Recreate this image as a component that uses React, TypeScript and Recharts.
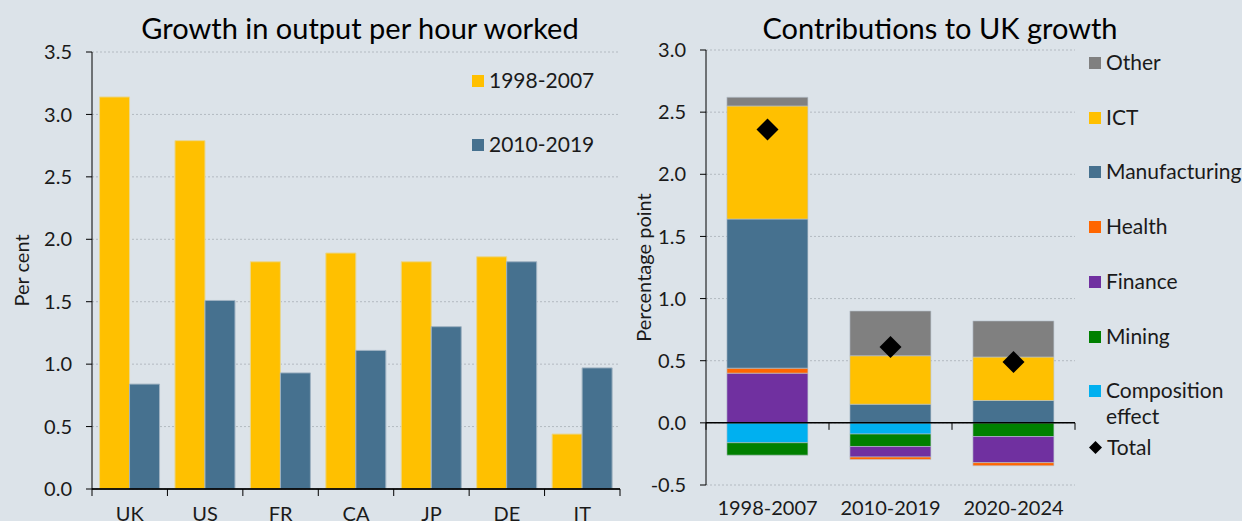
import React from "react"
import {
  BarChart,
  ComposedChart,
  Bar,
  Line,
  XAxis,
  YAxis,
  CartesianGrid,
  ReferenceLine,
} from "recharts"

// left chart
const countries = ["UK", "US", "FR", "CA", "JP", "DE", "IT"]
const growth1998 = [3.14, 2.79, 1.82, 1.89, 1.82, 1.86, 0.44]
const growth2010 = [0.84, 1.51, 0.93, 1.11, 1.3, 1.82, 0.97]
const leftTicks = [0, 0.5, 1, 1.5, 2, 2.5, 3, 3.5]

// right chart
const periods = ["1998-2007", "2010-2019", "2020-2024"]
const composition = [-0.16, -0.09, 0]
const mining = [-0.1, -0.1, -0.11]
const finance = [0.4, -0.085, -0.21]
const health = [0.04, -0.02, -0.025]
const manufacturing = [1.2, 0.15, 0.18]
const ict = [0.91, 0.39, 0.35]
const other = [0.07, 0.36, 0.29]
const total = [2.36, 0.61, 0.49]
const rightTicks = [-0.5, 0, 0.5, 1, 1.5, 2, 2.5, 3]

const FONT = "Lato, 'Open Sans', sans-serif"
const BG = "#dce3e9"
const YELLOW = "#ffc000"
const BLUE = "#46718f"

const leftData = countries.map((c, i) => ({
  country: c,
  a: growth1998[i],
  b: growth2010[i],
}))

const sectors = [
  { key: "composition", name: "Composition effect", values: composition, color: "#00b0f0" },
  { key: "mining", name: "Mining", values: mining, color: "#008000" },
  { key: "finance", name: "Finance", values: finance, color: "#7030a0" },
  { key: "health", name: "Health", values: health, color: "#ff6600" },
  { key: "manufacturing", name: "Manufacturing", values: manufacturing, color: BLUE },
  { key: "ict", name: "ICT", values: ict, color: YELLOW },
  { key: "other", name: "Other", values: other, color: "#808080" },
]

const rightData = periods.map((p, i) => {
  const row: Record<string, any> = { period: p, total: total[i] }
  sectors.forEach((s) => (row[s.key] = s.values[i]))
  return row
})

const tickStyle = { fontSize: 20, fill: "#1a1a1a", fontFamily: FONT }

const Diamond = (props: any) => {
  const { cx, cy } = props
  if (cx == null || cy == null) return null
  const r = 11
  return <path d={`M${cx},${cy - r}L${cx + r},${cy}L${cx},${cy + r}L${cx - r},${cy}Z`} fill="#000" />
}

// zero line with small tick marks at the category boundaries
const zeroLineWithTicks = (n: number) => (props: any) => {
  const { x1, x2, y1, y2 } = props
  if ([x1, x2, y1].some((v) => v == null || isNaN(v))) return <g />
  const step = (x2 - x1) / n
  return (
    <g>
      <line x1={x1} x2={x2} y1={y1} y2={y2} stroke="#000" strokeWidth={1.5} />
      {Array.from({ length: n + 1 }, (_, i) => (
        <line key={i} x1={x1 + i * step} x2={x1 + i * step} y1={y1} y2={y1 + 7} stroke="#000" strokeWidth={1} />
      ))}
    </g>
  )
}

function LegendItem({ color, label, top, diamond }: any) {
  return (
    <div style={{ position: "absolute", left: 0, top, display: "flex", alignItems: "flex-start", whiteSpace: "nowrap" }}>
      {diamond ? (
        <svg width={13} height={13} style={{ marginTop: 7, marginRight: 5 }}>
          <path d="M6.5,0L13,6.5L6.5,13L0,6.5Z" fill="#000" />
        </svg>
      ) : (
        <div style={{ width: 12, height: 12, background: color, marginTop: 8, marginRight: 5 }} />
      )}
      <div style={{ fontSize: 21, lineHeight: "26px", color: "#1a1a1a" }}>{label}</div>
    </div>
  )
}

export default function App() {
  const legendRight = [...sectors].reverse()
  return (
    <div
      style={{
        position: "fixed",
        left: 0,
        top: 0,
        width: 1242,
        height: 521,
        background: BG,
        fontFamily: FONT,
        overflow: "hidden",
      }}
    >
      {/* titles */}
      <div style={{ position: "absolute", left: 60, width: 600, top: 10, textAlign: "center", fontSize: 29, color: "#000", whiteSpace: "nowrap" }}>
        Growth in output per hour worked
      </div>
      <div style={{ position: "absolute", left: 690, width: 500, top: 10, textAlign: "center", fontSize: 29, color: "#000", whiteSpace: "nowrap" }}>
        Contributions to UK growth
      </div>

      {/* left chart */}
      <div style={{ position: "absolute", left: 0, top: 0 }}>
        <BarChart
          width={640}
          height={521}
          data={leftData}
          margin={{ top: 52, right: 20, bottom: 2, left: 32 }}
          barCategoryGap="10%"
          barGap={0}
        >
          <CartesianGrid vertical={false} stroke="#b3bac1" strokeDasharray="2 2" />
          <XAxis
            dataKey="country"
            height={30}
            tickLine={false}
            axisLine={{ stroke: "#000" }}
            tick={tickStyle}
            tickMargin={12}
            interval={0}
          />
          <YAxis
            domain={[0, 3.5]}
            ticks={leftTicks}
            width={60}
            tick={tickStyle}
            tickFormatter={(v: number) => v.toFixed(1)}
            axisLine={{ stroke: "#000" }}
            tickLine={{ stroke: "#000" }}
            tickSize={6}
            tickMargin={14}
            interval={0}
            label={{
              value: "Per cent",
              angle: -90,
              position: "insideLeft",
              offset: -10,
              style: { fontSize: 20, fill: "#1a1a1a", fontFamily: FONT, textAnchor: "middle" },
            }}
          />
          <Bar dataKey="a" name="1998-2007" fill={YELLOW} stroke="#e8d690" strokeWidth={1} isAnimationActive={false} />
          <Bar dataKey="b" name="2010-2019" fill={BLUE} stroke="#9fb2c2" strokeWidth={1} isAnimationActive={false} />
          <ReferenceLine y={0} shape={zeroLineWithTicks(countries.length)} ifOverflow="visible" />
        </BarChart>
      </div>

      {/* left legend */}
      <div style={{ position: "absolute", left: 472, top: 67 }}>
        <LegendItem color={YELLOW} label="1998-2007" top={0} />
        <LegendItem color={BLUE} label="2010-2019" top={64} />
      </div>

      {/* right chart */}
      <div style={{ position: "absolute", left: 620, top: 0 }}>
        <ComposedChart
          width={622}
          height={521}
          data={rightData}
          stackOffset="sign"
          margin={{ top: 50, right: 167, bottom: 0, left: 26 }}
          barCategoryGap="17%"
        >
          <CartesianGrid vertical={false} stroke="#b3bac1" strokeDasharray="2 2" />
          <XAxis
            dataKey="period"
            height={36}
            tickLine={false}
            axisLine={false}
            tick={tickStyle}
            tickMargin={10}
            interval={0}
          />
          <YAxis
            domain={[-0.5, 3]}
            ticks={rightTicks}
            width={60}
            tick={tickStyle}
            tickFormatter={(v: number) => v.toFixed(1)}
            axisLine={{ stroke: "#000" }}
            tickLine={{ stroke: "#000" }}
            tickSize={6}
            tickMargin={14}
            interval={0}
            label={{
              value: "Percentage point",
              angle: -90,
              position: "insideLeft",
              offset: -2,
              style: { fontSize: 20, fill: "#1a1a1a", fontFamily: FONT, textAnchor: "middle" },
            }}
          />
          {sectors.map((s) => (
            <Bar
              key={s.key}
              dataKey={s.key}
              name={s.name}
              stackId="s"
              fill={s.color}
              stroke="#b9c4ce"
              strokeWidth={0.6}
              isAnimationActive={false}
            />
          ))}
          <ReferenceLine y={0} shape={zeroLineWithTicks(periods.length)} />
          <Line dataKey="total" name="Total" stroke="none" dot={<Diamond />} activeDot={false} isAnimationActive={false} />
        </ComposedChart>
      </div>

      {/* right legend */}
      <div style={{ position: "absolute", left: 1089, top: 49 }}>
        {legendRight.map((s, i) => (
          <LegendItem
            key={s.key}
            color={s.color}
            top={i * 54.7}
            label={s.key === "composition" ? <span>Composition<br />effect</span> : s.name}
          />
        ))}
        <LegendItem diamond label="Total" top={7 * 54.7 + 2} />
      </div>
    </div>
  )
}
